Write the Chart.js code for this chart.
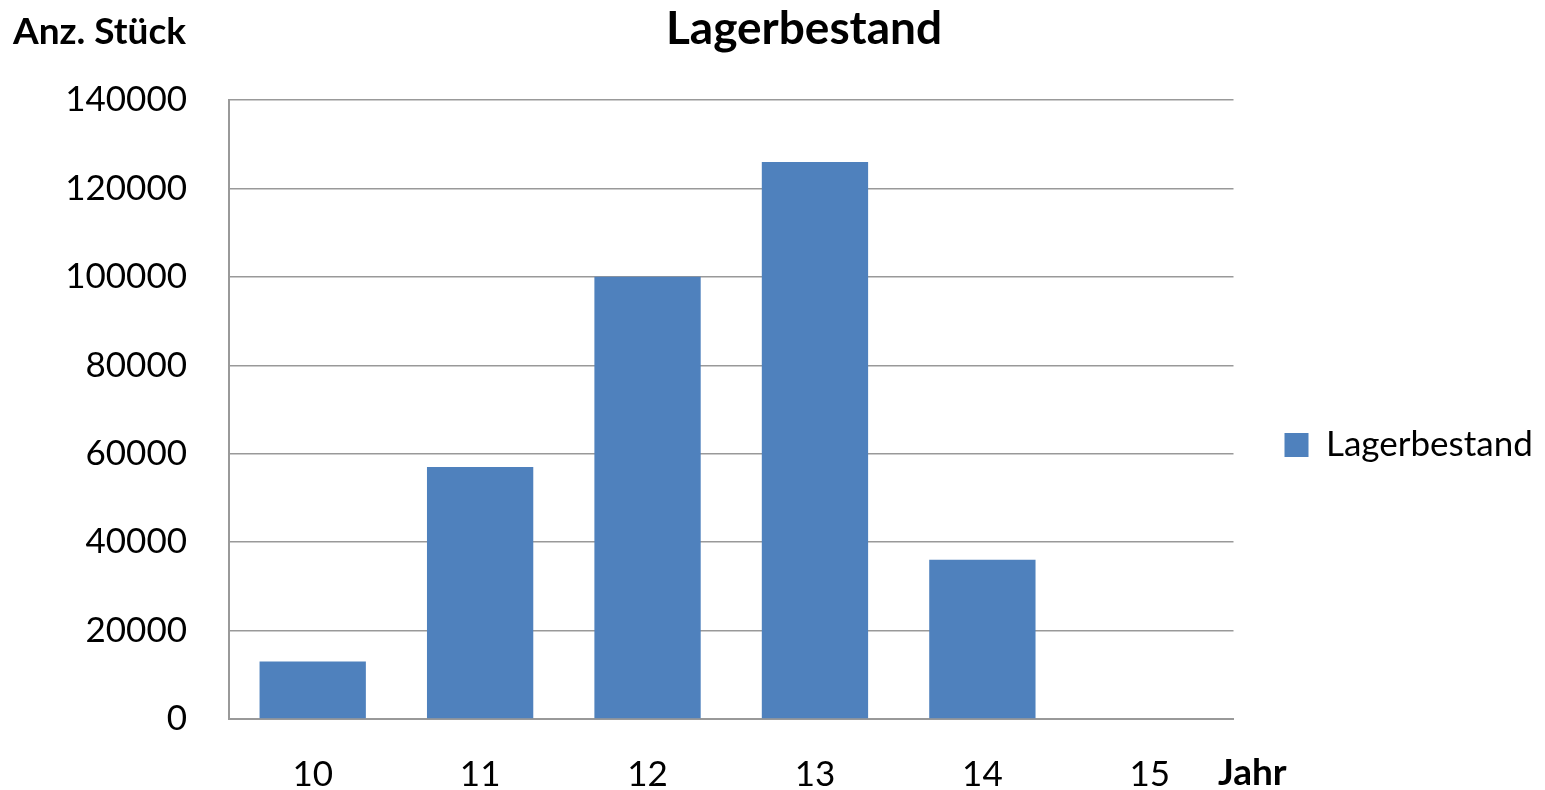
<!DOCTYPE html>
<html>
<head>
<meta charset="utf-8">
<script src="https://cdn.jsdelivr.net/npm/chart.js@4/dist/chart.umd.min.js"></script>
<style>
  html, body { margin: 0; padding: 0; background: #fff; }
  #wrap { width: 1545px; height: 790px; position: relative; }
</style>
</head>
<body>
<div id="wrap"><canvas id="c" width="1545" height="790"></canvas></div>
<script>
const categories = ["10", "11", "12", "13", "14", "15"];
const lagerbestand = [13000, 57000, 100000, 126000, 36000, 0];
const seriesName = "Lagerbestand";
const chartTitle = "Lagerbestand";
const yAxisTitle = "Anz. Stück";
const xAxisTitle = "Jahr";

const FONT = "Lato, 'Open Sans', sans-serif";

const textPlugin = {
  id: 'texts',
  afterDraw(chart) {
    const ctx = chart.ctx;
    ctx.save();
    ctx.fillStyle = '#000';
    ctx.textBaseline = 'alphabetic';
    ctx.font = `bold 46px ${FONT}`;
    ctx.textAlign = 'center';
    ctx.fillText(chartTitle, 804, 44);
    ctx.font = `bold 37px ${FONT}`;
    ctx.textAlign = 'left';
    ctx.fillText(yAxisTitle, 13, 44);
    ctx.fillText(xAxisTitle, 1218, 785);
    ctx.restore();
  }
};

function build() {
  new Chart(document.getElementById('c'), {
    type: 'bar',
    data: {
      labels: categories,
      datasets: [{
        label: seriesName,
        data: lagerbestand,
        backgroundColor: '#4F81BD',
        borderWidth: 0,
        barPercentage: 0.635,
        categoryPercentage: 1.0
      }]
    },
    options: {
      responsive: false,
      animation: false,
      layout: { padding: { top: 100, left: 0, right: 12, bottom: 0 } },
      plugins: {
        legend: {
          position: 'right',
          align: 'center',
          labels: {
            font: { family: FONT, size: 35 },
            color: '#000',
            boxWidth: 24,
            boxHeight: 24,
            padding: 7
          }
        },
        title: { display: false },
        tooltip: { enabled: false }
      },
      scales: {
        x: {
          grid: { display: false, drawTicks: false },
          border: { display: true, color: '#999', width: 2 },
          ticks: { font: { family: FONT, size: 35 }, color: '#000', padding: 35 },
          afterFit(scale) { scale.height = 71; }
        },
        y: {
          min: 0,
          max: 140000,
          ticks: {
            stepSize: 20000,
            font: { family: FONT, size: 35 },
            color: '#000',
            padding: 42,
            callback: (v) => String(v)
          },
          grid: { color: '#999', lineWidth: 1.5, drawTicks: false },
          border: { display: true, color: '#999', width: 2 },
          afterFit(scale) { scale.width = 229; }
        },
        gap: {
          position: 'right',
          min: 0,
          max: 1,
          display: true,
          ticks: { display: false },
          grid: { display: false, drawTicks: false },
          border: { display: false },
          afterFit(scale) { scale.width = 44; }
        }
      }
    },
    plugins: [textPlugin]
  });
}

if (document.fonts && document.fonts.load) {
  Promise.all([
    document.fonts.load(`35px Lato`),
    document.fonts.load(`bold 35px Lato`)
  ]).then(build, build);
} else {
  build();
}
</script>
</body>
</html>
